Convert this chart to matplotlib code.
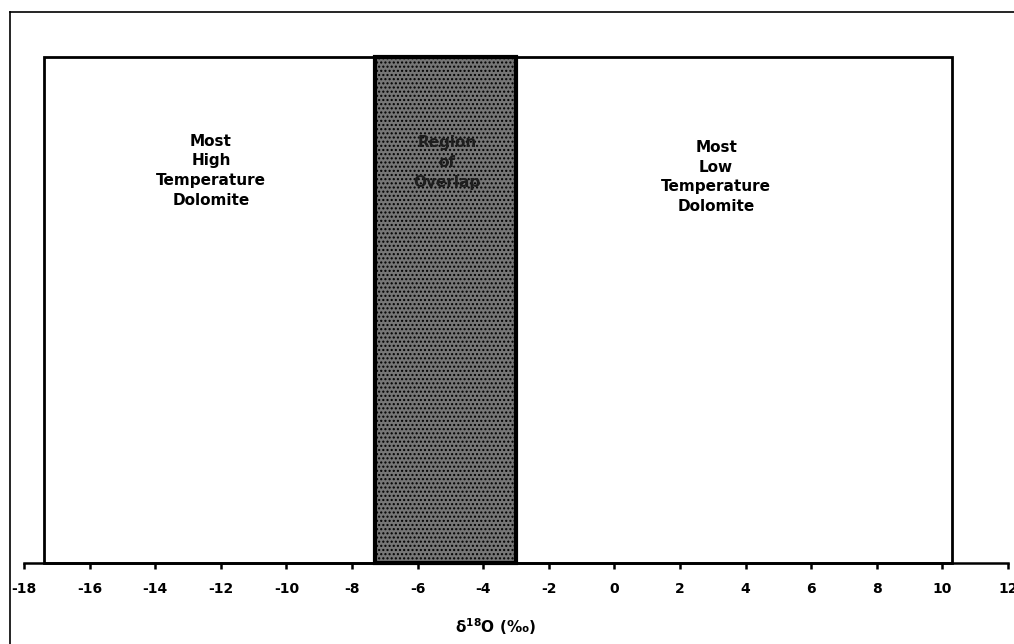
import matplotlib
matplotlib.use("Agg")
import matplotlib.pyplot as plt
from matplotlib.lines import Line2D

plt.rcParams['font.family'] = ['DejaVu Sans']
plt.rcParams['mathtext.fontset'] = 'dejavusans'

# Data: d18O ranges (permil)
high_temp_range = (-17.4, -3.0)   # Most High Temperature Dolomite
low_temp_range = (-7.3, 10.3)     # Most Low Temperature Dolomite
overlap_range = (max(high_temp_range[0], low_temp_range[0]),
                 min(high_temp_range[1], low_temp_range[1]))
x_ticks = list(range(-18, 13, 2))
labels = ["Most\nHigh\nTemperature\nDolomite", "Region\nof\nOverlap", "Most\nLow\nTemperature\nDolomite"]

W, H = 1014, 644
fig = plt.figure(figsize=(W / 100, H / 100), dpi=100)
fig.patch.set_facecolor('white')

# outer frame lines
fig.add_artist(Line2D([10 / W, 10 / W], [0, 1 - 12 / H], transform=fig.transFigure, color='black', lw=1.2))
fig.add_artist(Line2D([10 / W, 1], [1 - 12 / H, 1 - 12 / H], transform=fig.transFigure, color='black', lw=1.2))

left, right = 24 / W, 1008 / W
bottom, top = (H - 563) / H, (H - 57) / H
ax = fig.add_axes([left, bottom, right - left, top - bottom])
ax.set_xlim(-18, 12)
ax.set_ylim(0, 1)

# High temperature box
ax.bar(x=high_temp_range[0], height=1, width=high_temp_range[1] - high_temp_range[0], bottom=0,
       align='edge', facecolor='white', edgecolor='black', linewidth=2.0, clip_on=False, zorder=2)
# Low temperature box
ax.bar(x=low_temp_range[0], height=1, width=low_temp_range[1] - low_temp_range[0], bottom=0,
       align='edge', facecolor='white', edgecolor='black', linewidth=2.0, clip_on=False, zorder=2)
# Overlap region
ax.bar(x=overlap_range[0], height=1, width=overlap_range[1] - overlap_range[0], bottom=0,
       align='edge', facecolor='#767676', edgecolor='black', linewidth=3.0,
       hatch='....', clip_on=False, zorder=3)

ax.text(-12.3, 0.775, labels[0], ha='center', va='center', fontsize=11, fontweight='bold', linespacing=1.4)
ax.text(-5.1, 0.792, labels[1], ha='center', va='center', fontsize=11, fontweight='bold', linespacing=1.4,
        color='#1e1e1e', zorder=4)
ax.text(3.1, 0.763, labels[2], ha='center', va='center', fontsize=11, fontweight='bold', linespacing=1.4)

for s in ['top', 'left', 'right']:
    ax.spines[s].set_visible(False)
ax.spines['bottom'].set_linewidth(1.8)
ax.set_yticks([])
ax.set_xticks(x_ticks)
ax.set_xticklabels([str(t) for t in x_ticks], fontsize=10, fontweight='bold')
ax.tick_params(axis='x', direction='out', length=4, width=1.8, pad=10)

fig.text(495 / W, 1 - 627 / H, r'δ$^{\mathbf{18}}$O (‰)', ha='center', va='center', fontsize=11, fontweight='bold')

fig.savefig('out.png', dpi=100, facecolor='white')
